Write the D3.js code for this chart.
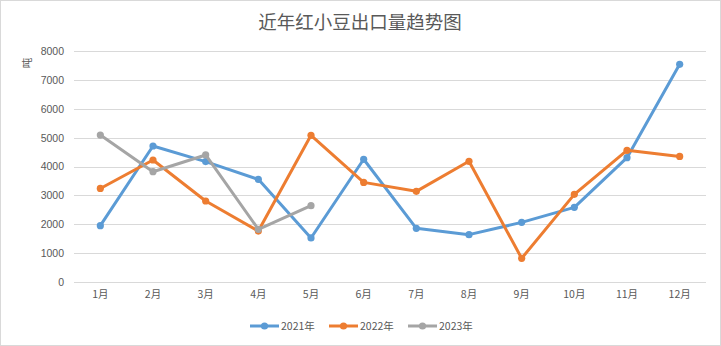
<!DOCTYPE html>
<html><head><meta charset="utf-8">
<script src="https://cdn.jsdelivr.net/npm/d3@7"></script>
<style>body{margin:0;background:#fff}svg{display:block}</style>
</head><body>
<svg id="c" width="721" height="346"></svg>
<script>
const months = ["1月","2月","3月","4月","5月","6月","7月","8月","9月","10月","11月","12月"];
const s2021 = [1950,4710,4170,3555,1525,4250,1860,1640,2065,2585,4305,7540];
const s2022 = [3240,4225,2805,1765,5080,3450,3140,4180,820,3035,4560,4350];
const s2023 = [5090,3820,4400,1825,2645];
const yTicks = [0,1000,2000,3000,4000,5000,6000,7000,8000];
const seriesNames = ["2021年","2022年","2023年"];
const colors = ["#5B9BD5","#ED7D31","#A5A5A5"];
const title = "近年红小豆出口量趋势图";
const yLabel = "吨";

const svg = d3.select("#c");
const font = "'Microsoft YaHei','Noto Sans CJK SC',sans-serif";
svg.append("rect").attr("x",0.5).attr("y",0.5).attr("width",720).attr("height",345)
  .attr("fill","#fff").attr("stroke","#d9d9d9");

const x = d3.scaleBand().domain(months).range([74,706]);
const y = d3.scaleLinear().domain([0,8000]).range([282,51]);

// grid
svg.append("g").selectAll("line").data(yTicks).join("line")
  .attr("x1",74).attr("x2",706)
  .attr("y1",d=>Math.round(y(d))+0.5).attr("y2",d=>Math.round(y(d))+0.5)
  .attr("stroke","#d9d9d9").attr("stroke-width",1);

// y axis labels
const ya = svg.append("g").attr("transform","translate(64,0)")
  .call(d3.axisLeft(y).tickValues(yTicks).tickFormat(d3.format("d")).tickSize(0).tickPadding(0));
ya.select(".domain").remove();
ya.selectAll("text").attr("fill","#595959").attr("font-size","10.5px")
  .attr("font-family","'Liberation Sans',Arial,sans-serif");

// x axis labels
const xa = svg.append("g").attr("transform","translate(0,291)")
  .call(d3.axisBottom(x).tickSize(0).tickPadding(0));
xa.select(".domain").remove();
xa.selectAll("text").attr("fill","#595959").attr("font-size","10.5px")
  .attr("font-family",font);

// title
svg.append("text").attr("x",360).attr("y",29).attr("text-anchor","middle")
  .attr("font-size","18.5px").attr("fill","#595959").attr("font-family",font).text(title);

// y label
svg.append("text").attr("transform","translate(31,63) rotate(-90)").attr("text-anchor","middle")
  .attr("font-size","10.5px").attr("fill","#595959").attr("font-family",font).text(yLabel);

const all = [s2021,s2022,s2023];
const line = d3.line().x((d,i)=>x(months[i])+x.bandwidth()/2).y(d=>y(d));
all.forEach((s,k)=>{
  svg.append("path").datum(s).attr("d",line).attr("fill","none")
    .attr("stroke",colors[k]).attr("stroke-width",3).attr("stroke-linejoin","round").attr("stroke-linecap","round");
  svg.append("g").selectAll("circle").data(s).join("circle")
    .attr("cx",(d,i)=>x(months[i])+x.bandwidth()/2).attr("cy",d=>y(d)).attr("r",3.6)
    .attr("fill",colors[k]);
});

// legend
const lx = [250,329,408];
seriesNames.forEach((n,k)=>{
  const g = svg.append("g").attr("transform",`translate(${lx[k]},326)`);
  g.append("line").attr("x1",0).attr("x2",29).attr("stroke",colors[k]).attr("stroke-width",3);
  g.append("circle").attr("cx",14.5).attr("r",3.6).attr("fill",colors[k]);
  g.append("text").attr("x",31).attr("y",4).attr("font-size","10.5px").attr("fill","#595959")
    .attr("font-family",font).text(n);
});
</script>
</body></html>
